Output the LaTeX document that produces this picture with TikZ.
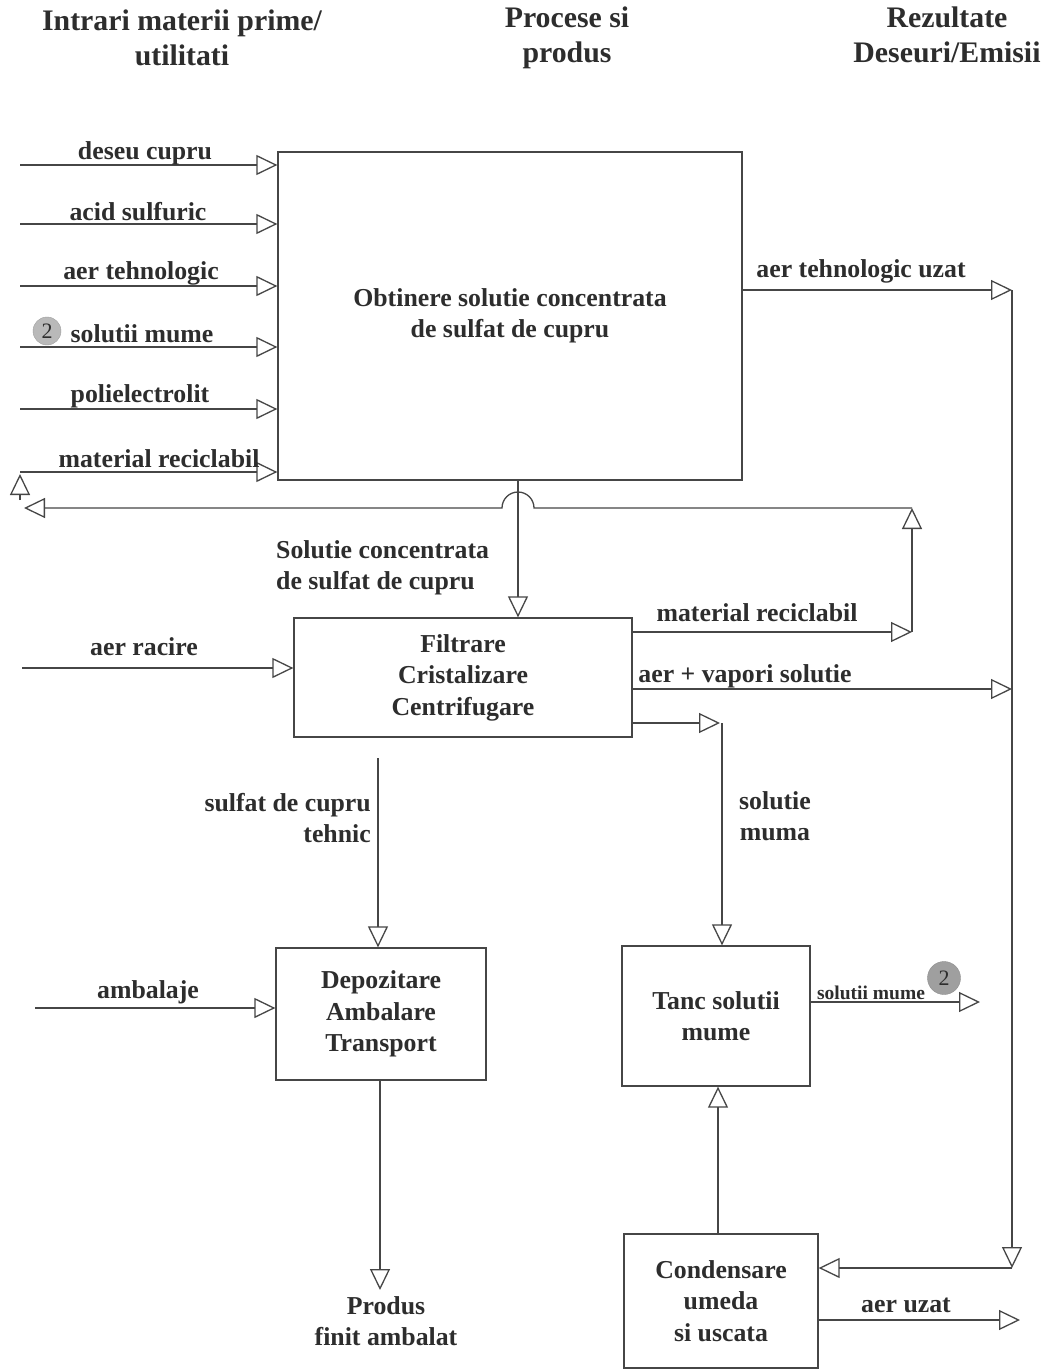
\documentclass[tikz,border=0pt]{standalone}
\usepackage{fontspec}
\setmainfont{Liberation Serif}
\usetikzlibrary{arrows.meta}
\definecolor{ink}{RGB}{70,70,70}
\definecolor{txt}{RGB}{45,45,45}
\newcommand\lblf{\fontsize{25.8}{31.5}\selectfont\bfseries}
\newcommand\hdrf{\fontsize{29.8}{35.5}\selectfont\bfseries}
\newcommand\smlf{\fontsize{19.5}{22}\selectfont\bfseries}
\begin{document}
\begin{tikzpicture}[x=1pt,y=-1pt,
  box/.style={draw=ink, line width=1.3pt, inner sep=0pt, align=center, font=\lblf, text=txt},
  lab/.style={inner sep=0pt, font=\lblf, text=txt},
  hdr/.style={inner sep=0pt, font=\hdrf, text=txt, align=center},
  flow/.style={draw=ink, line width=1.3pt, -{Triangle[open,length=21pt,width=20pt,line width=1.3pt]}},
  num/.style={circle, inner sep=0pt, font=\fontsize{22}{22}\selectfont, text=txt}
]
\useasboundingbox[fill=white] (0,0) rectangle (1049,1370);

% headers
\node[hdr] (h1) at (182,38) {Intrari materii prime/\\utilitati};
\node[hdr] (h2) at (567,38) {Procese si\\produs};
\node[hdr] (h3) at (947,35) {Rezultate\\Deseuri/Emisii};

% boxes
\node[box, minimum width=464pt, minimum height=328pt] (b1) at (510,316) {Obtinere solutie concentrata\\de sulfat de cupru};
\node[box, minimum width=338pt, minimum height=119pt] (b2) at (463,677.5) {Filtrare\\Cristalizare\\Centrifugare};
\node[box, minimum width=210pt, minimum height=132pt] (b3) at (381,1014) {Depozitare\\Ambalare\\Transport};
\node[box, minimum width=188pt, minimum height=140pt] (b4) at (716,1016) {Tanc solutii\\mume};
\node[box, minimum width=194pt, minimum height=134pt] (b5) at (721,1301) {Condensare\\umeda\\si uscata};

% inputs to b1
\foreach \yy/\n in {165/1,224/2,286/3,347/4,409/5,472/6}{
  \coordinate (i\n) at (20,\yy);
  \draw[flow] (i\n) -- (i\n -| b1.west);
}
\node[lab] (l1) at (145,153) {deseu cupru};
\node[lab] (l2) at (138,212) {acid sulfuric};
\node[lab] (l3) at (141,273) {aer tehnologic};
\node[lab] (l4) at (142,334) {solutii mume};
\node[num, fill=gray!55, draw=gray!75, minimum size=28pt] (c1) at (47,331) {2};
\node[lab] (l5) at (140,396) {polielectrolit};
\node[lab] (l6) at (159,459) {material reciclabil};

% return of recyclable material
\coordinate (mr) at (912,632);
\coordinate (mtop) at (912,508);
\coordinate (lret) at (24,508);
\coordinate (lupb) at (20,500);
\coordinate (lup) at (20,474);
\coordinate (vx) at (518,0);
\draw[flow] (b2.east |- mr) -- (mr);
\draw[flow] (mr) -- (mtop);
\draw[flow] (mtop) -- (534,508) arc[start angle=0,end angle=180,radius=16pt] -- (lret);
\draw[flow] (lupb) -- (lup);
\node[lab] (l7) at (757,613) {material reciclabil};

% b1 -> b2
\draw[flow] (b1.south -| vx) -- (b2.north -| vx);
\node[lab, align=left, anchor=west] (l8) at (276,568) {Solutie concentrata\\de sulfat de cupru};

% aer tehnologic uzat and right collector
\coordinate (rc1) at (1012,290);
\coordinate (rc2) at (1012,1268);
\draw[flow] (b1.east |- rc1) -- (rc1);
\node[lab] (l9) at (861,271) {aer tehnologic uzat};
\draw[flow] (rc1) -- (rc2);
\draw[flow] (rc2) -- (b5.east |- rc2);

% aer racire
\coordinate (ar) at (22,668);
\draw[flow] (ar) -- (ar -| b2.west);
\node[lab] (l10) at (144,647) {aer racire};

% aer + vapori
\coordinate (av) at (1012,689);
\draw[flow] (b2.east |- av) -- (av);
\node[lab] (l11) at (745,676) {aer + vapori solutie};

% solutie muma
\coordinate (sm1) at (720,723);
\coordinate (sm2) at (722,723);
\draw[flow] (b2.east |- sm1) -- (sm1);
\draw[flow] (sm2) -- (b4.north -| sm2);
\node[lab, align=center] (l12) at (775,816) {solutie\\muma};

% sulfat de cupru tehnic
\coordinate (st) at (378,758);
\draw[flow] (st) -- (b3.north -| st);
\node[lab, align=right, anchor=east] (l13) at (371,818) {sulfat de cupru\\tehnic};

% ambalaje
\coordinate (am) at (35,1008);
\draw[flow] (am) -- (am -| b3.west);
\node[lab] (l14) at (148,992) {ambalaje};

% produs
\coordinate (pr) at (380,1290);
\draw[flow] (b3.south -| pr) -- (pr);
\node[lab, align=center] (l15) at (386,1321) {Produs\\finit ambalat};

% tanc -> solutii mume (2)
\coordinate (ts) at (980,1002);
\draw[flow] (b4.east |- ts) -- (ts);
\node[inner sep=0pt, font=\smlf, text=txt] (l16) at (871,993) {solutii mume};
\node[num, fill=gray!75, draw=gray!90, minimum size=33pt] (c2) at (944,978) {2};

% condensare -> tanc
\coordinate (cx) at (718,0);
\draw[flow] (b5.north -| cx) -- (b4.south -| cx);

% aer uzat
\coordinate (au) at (1020,1320);
\draw[flow] (b5.east |- au) -- (au);
\node[lab] (l17) at (906,1305) {aer uzat};
\end{tikzpicture}
\end{document}
